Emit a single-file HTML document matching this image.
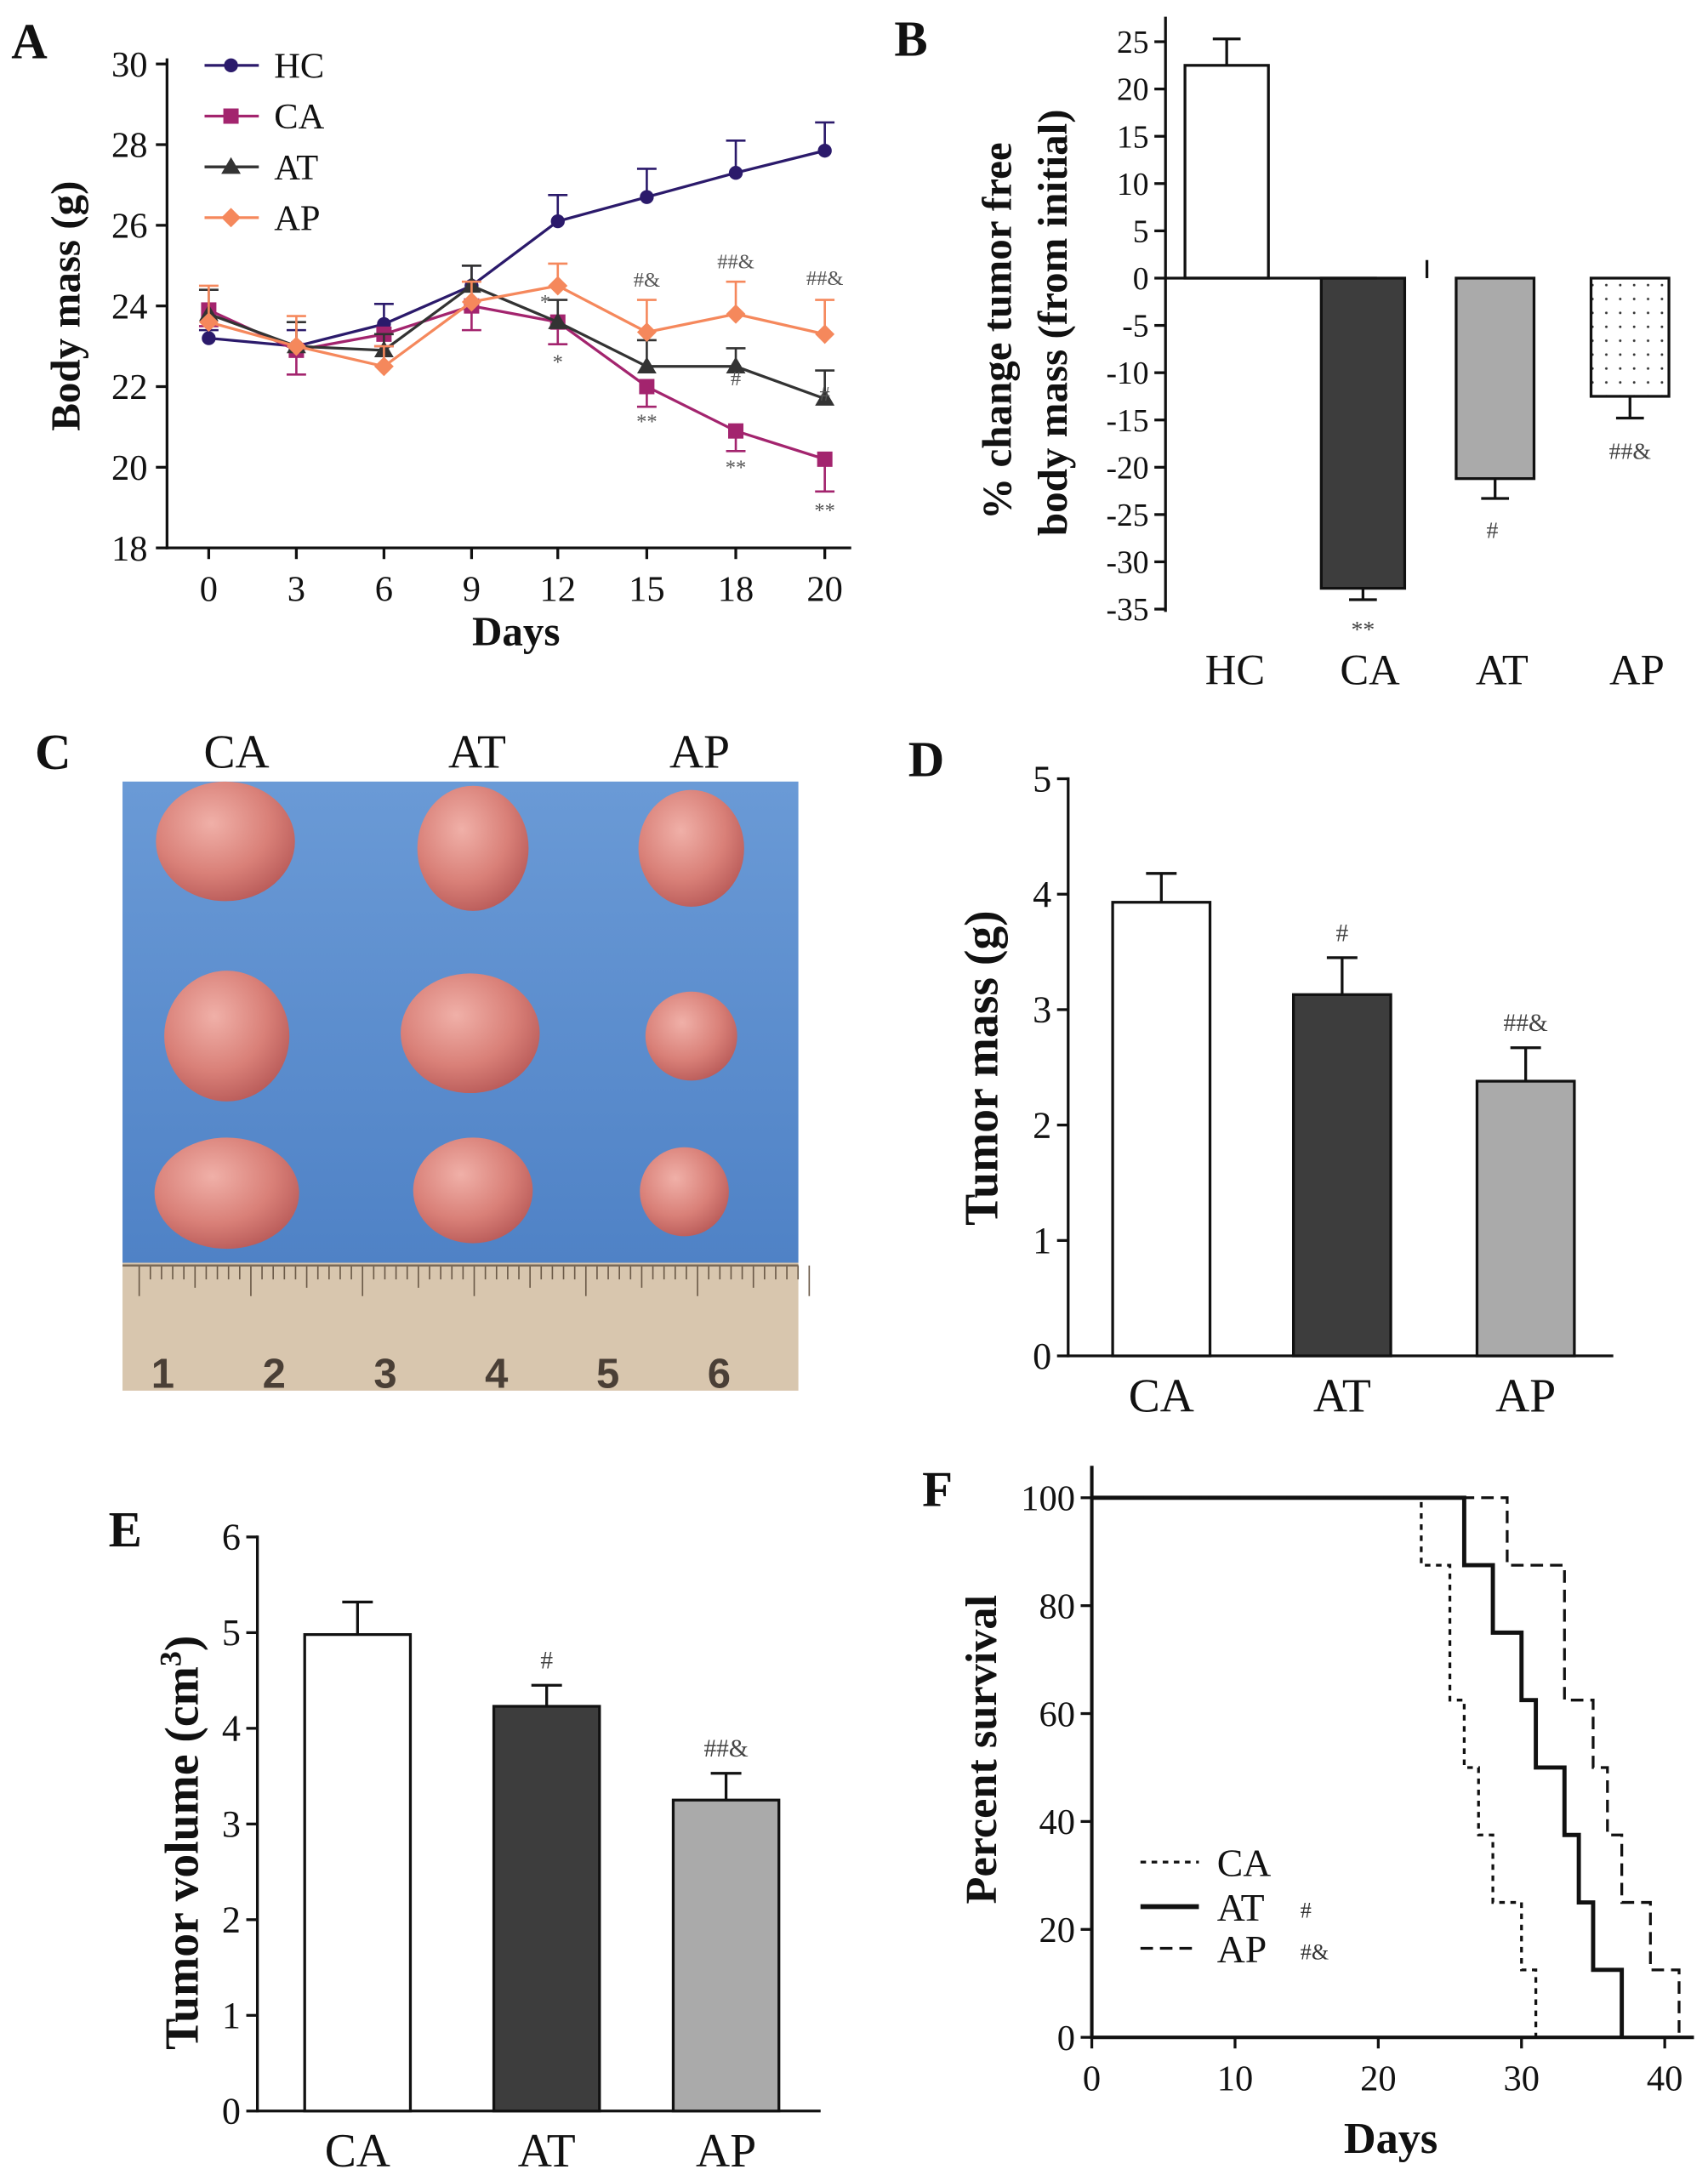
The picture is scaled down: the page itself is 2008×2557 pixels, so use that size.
<!DOCTYPE html>
<html><head><meta charset="utf-8"><style>
html,body{margin:0;padding:0;background:#fff;}
svg{display:block;font-family:"Liberation Serif",serif;}
</style></head><body>
<svg id="fig" xmlns="http://www.w3.org/2000/svg" width="2008" height="2557" viewBox="0 0 1228 1564">
<defs>
<pattern id="dots" width="10" height="10" patternUnits="userSpaceOnUse"><rect width="10" height="10" fill="#fff"/><circle cx="5" cy="5" r="0.9" fill="#333"/></pattern>
<linearGradient id="blue" x1="0" y1="0" x2="0" y2="1"><stop offset="0" stop-color="#6a9ad6"/><stop offset="1" stop-color="#4f82c6"/></linearGradient>
<radialGradient id="tum" cx="0.4" cy="0.35" r="0.7"><stop offset="0" stop-color="#f0b0a8"/><stop offset="0.6" stop-color="#d98078"/><stop offset="1" stop-color="#b85a58"/></radialGradient>
</defs>
</svg>
<script>
// ---------- DATA ----------
const daysA = ["0","3","6","9","12","15","18","20"];
const hcMean = [23.2,23.0,23.55,24.5,26.1,26.7,27.3,27.85];
const hcErr  = [0.2,0.4,0.5,0.5,0.65,0.7,0.8,0.7];
const caMean = [23.9,22.9,23.3,24.0,23.6,22.0,20.9,20.2];
const caErr  = [0.4,0.6,0.3,0.6,0.55,0.5,0.5,0.8];
const atMean = [23.8,23.0,22.9,24.5,23.6,22.5,22.5,21.7];
const atErr  = [0.6,0.6,0.4,0.5,0.55,0.65,0.45,0.7];
const apMean = [23.6,23.0,22.5,24.1,24.5,23.35,23.8,23.3];
const apErr  = [0.9,0.75,0.5,0.5,0.55,0.8,0.8,0.85];
const ticksA = [18,20,22,24,26,28,30];

const catsB = ["HC","CA","AT","AP"];
const valsB = [22.5,-32.8,-21.2,-12.5];
const errsB = [2.8,1.2,2.1,2.3];
const ticksB = [25,20,15,10,5,0,-5,-10,-15,-20,-25,-30,-35];

const catsD = ["CA","AT","AP"];
const valsD = [3.93,3.13,2.38];
const errsD = [0.25,0.32,0.29];
const ticksD = [0,1,2,3,4,5];

const catsE = ["CA","AT","AP"];
const valsE = [4.98,4.23,3.25];
const errsE = [0.34,0.22,0.28];
const ticksE = [0,1,2,3,4,5,6];

const survCA = [[0,100],[23,87.5],[25,62.5],[26,50],[27,37.5],[28,25],[30,12.5],[31,0]];
const survAT = [[0,100],[26,87.5],[28,75],[30,62.5],[31,50],[33,37.5],[34,25],[35,12.5],[37,0]];
const survAP = [[0,100],[29,87.5],[33,62.5],[35,50],[36,37.5],[37,25],[39,12.5],[41,0]];
const ticksFx = [0,10,20,30,40];
const ticksFy = [0,20,40,60,80,100];

// ---------- HELPERS ----------
const svg = document.getElementById('fig');
const NS = 'http://www.w3.org/2000/svg';
function mk(tag, attrs, parent){const e=document.createElementNS(NS,tag);for(const k in attrs)e.setAttribute(k,attrs[k]);(parent||svg).appendChild(e);return e;}
function txt(x,y,s,size,opts,parent){const t=mk('text',Object.assign({x:x,y:y,'font-size':size,fill:'#111'},opts||{}),parent);t.textContent=s;return t;}
function line(x1,y1,x2,y2,w,parent,extra){return mk('line',Object.assign({x1:x1,y1:y1,x2:x2,y2:y2,stroke:'#111','stroke-width':w||2},extra||{}),parent);}

// ---------- PANEL A ----------
const gA = mk('g',{});


const yA = v => 394 - (v-18)*29;
const xAp = [150,213,276,339,401,465,529,593];
const xA = i => xAp[0] + (xAp[i]-xAp[0]);
let t = txt(8,42,'A',36,{'font-weight':'bold'},gA);  
line(120,42,120,395,2,gA); line(119,394,612,394,2,gA);
ticksA.forEach(v=>{line(112,yA(v),120,yA(v),2,gA);const l=txt(106,yA(v)+9,String(v),26,{'text-anchor':'end'},gA);});
daysA.forEach((d,i)=>{line(xA(i),394,xA(i),402,2,gA);const l=txt(xA(i),432,d,26,{'text-anchor':'middle'},gA);});
t=txt(371,464,'Days',30,{'text-anchor':'middle','font-weight':'bold'},gA);
t=txt(0,0,'Body mass (g)',30,{'text-anchor':'middle','font-weight':'bold',transform:'translate(57,220) rotate(-90)'},gA);
function marker(shape,x,y,c,parent){
  if(shape==='circle')return mk('circle',{cx:x,cy:y,r:5,fill:c},parent);
  if(shape==='square')return mk('rect',{x:x-5.5,y:y-5.5,width:11,height:11,fill:c},parent);
  if(shape==='tri')return mk('polygon',{points:`${x},${y-7} ${x-7},${y+5} ${x+7},${y+5}`,fill:c},parent);
  return mk('polygon',{points:`${x},${y-7} ${x+7},${y} ${x},${y+7} ${x-7},${y}`,fill:c},parent);
}
const seriesA = [
 {n:'hc',m:hcMean,e:hcErr,c:'#2b1a6b',s:'circle',dir:1},
 {n:'ca',m:caMean,e:caErr,c:'#a3246e',s:'square',dir:-1},
 {n:'at',m:atMean,e:atErr,c:'#333333',s:'tri',dir:1},
 {n:'ap',m:apMean,e:apErr,c:'#f5885c',s:'diamond',dir:1}];
seriesA.forEach(S=>{
  const g=mk('g',{},gA);
  
  
  S.m.forEach((v,i)=>{const y2=yA(v+S.dir*S.e[i]);line(xA(i),yA(v),xA(i),y2,1.6,g,{stroke:S.c});line(xA(i)-7,y2,xA(i)+7,y2,1.6,g,{stroke:S.c});});
  const p=mk('polyline',{points:S.m.map((v,i)=>xA(i)+','+yA(v)).join(' '),fill:'none',stroke:S.c,'stroke-width':2},g);
  
  S.m.forEach((v,i)=>{const mm=marker(S.s,xA(i),yA(v),S.c,g);});
});
// legend
const legA=mk('g',{},gA);
seriesA.forEach((S,k)=>{const y=47+k*36.5;line(147,y,186,y,2,legA,{stroke:S.c});marker(S.s,166,y,S.c,legA);const l=txt(197,y+9,S.n.toUpperCase(),26,{},legA);});
// significance marks
[['*',392,222],['*',401,265],['**',465,308],['**',529,341],['**',593,372],['#&',465,206],['##&',529,193],['##&',593,205],['#',529,277],['#',593,288]].forEach(a=>{const l=txt(a[1],a[2],a[0],15,{'text-anchor':'middle',fill:'#555'},gA);});

// ---------- PANEL B ----------
const gB=mk('g',{});
const yB=v=>200-v*6.8;
t=txt(643,40,'B',36,{'font-weight':'bold'},gB);
line(838,12,838,440,2,gB);
ticksB.forEach(v=>{line(830,yB(v),838,yB(v),2,gB);const l=txt(826,yB(v)+8,String(v),23,{'text-anchor':'end'},gB);});
const xB=[882,980,1075,1172], wB=[60,60,56,56];
const fillB=['#fff','#3d3d3d','#aaaaaa','url(#dots)'];
valsB.forEach((v,i)=>{
  const y0=Math.min(yB(0),yB(v)),h=Math.abs(yB(v)-yB(0));
  const r=mk('rect',{x:xB[i]-wB[i]/2,y:y0,width:wB[i],height:h,fill:fillB[i],stroke:'#111','stroke-width':2},gB);
  
  const s=v>=0?1:-1,ye=yB(v+s*errsB[i]);
  line(xB[i],yB(v),xB[i],ye,2,gB);line(xB[i]-10,ye,xB[i]+10,ye,2,gB);
  const l=txt(xB[i]+(i===0?6:5),492,catsB[i],31,{'text-anchor':'middle'},gB);
});
line(838,200,990,200,2,gB);line(1026,187,1026,200,2,gB);
t=txt(0,0,'% change tumor free',30,{'text-anchor':'middle','font-weight':'bold',transform:'translate(727,238) rotate(-90)'},gB);
t=txt(0,0,'body mass  (from initial)',30,{'text-anchor':'middle','font-weight':'bold',transform:'translate(767,232) rotate(-90)'},gB);
[['**',980,458],['#',1073,387],['##&',1172,330]].forEach(a=>{const l=txt(a[1],a[2],a[0],17,{'text-anchor':'middle',fill:'#444'},gB);});

// ---------- PANEL C (photo) ----------
const gC=mk('g',{});
t=txt(25,553,'C',36,{'font-weight':'bold'},gC);
[['CA',170],['AT',343],['AP',503]].forEach(a=>{const l=txt(a[1],552,a[0],34,{'text-anchor':'middle'},gC);});
mk('rect',{x:88,y:562,width:486,height:346,fill:'url(#blue)'},gC);
mk('rect',{x:88,y:908,width:486,height:92,fill:'#d8c6ae'},gC);
for(let k=0;k<=60;k++){const x=100+k*8.03;const h=k%10===0?22:(k%5===0?16:10);line(x,910,x,910+h,1,gC,{stroke:'#6b5a48'});}
line(88,910,574,910,1.5,gC,{stroke:'#7a6a58'});
['1','2','3','4','5','6'].forEach((n,i)=>{const l=txt(117+i*80,998,n,30,{'text-anchor':'middle','font-family':'Liberation Sans, sans-serif','font-weight':'bold',fill:'#4a3f36'},gC);});
[[162,605,50,43],[340,610,40,45],[497,610,38,42],[163,745,45,47],[338,743,50,43],[497,745,33,32],[163,858,52,40],[340,856,43,38],[492,857,32,32]].forEach(b=>{
  const e=mk('ellipse',{cx:b[0],cy:b[1],rx:b[2],ry:b[3],fill:'url(#tum)'},gC);});

// ---------- generic bar chart for D and E ----------
function barChart(name,cats,vals,errs,ticks,ax,y0,pxPer,xs,w,xEnd,title,titleX,label,labelX,labelY,sig){
  const g=mk('g',{});
  const y=v=>y0-v*pxPer;
  let l=txt(labelX,labelY,label,36,{'font-weight':'bold'},g);
  line(ax,y(ticks[ticks.length-1])-1,ax,y0+1,2,g);line(ax,y0,xEnd,y0,2,g);
  ticks.forEach(v=>{line(ax-8,y(v),ax,y(v),2,g);const q=txt(ax-12,y(v)+9,String(v),27,{'text-anchor':'end'},g);});
  const fills=['#fff','#3d3d3d','#aaaaaa'];
  vals.forEach((v,i)=>{
    const r=mk('rect',{x:xs[i]-w/2,y:y(v),width:w,height:y0-y(v),fill:fills[i],stroke:'#111','stroke-width':2},g);
    
    const ye=y(v+errs[i]);line(xs[i],y(v),xs[i],ye,2,g);line(xs[i]-11,ye,xs[i]+11,ye,2,g);
    const q=txt(xs[i],y0+40,cats[i],34,{'text-anchor':'middle'},g);
    if(sig[i]){const s=txt(xs[i],ye-12,sig[i],18,{'text-anchor':'middle',fill:'#444'},g);}
  });
  return g;
}
const gD=barChart('panel-d-tumor-mass-chart',catsD,valsD,errsD,ticksD,768,975,83,[835,965,1097],70,1160,'',0,'D',653,558,['','#','##&']);
t=txt(0,0,'Tumor mass (g)',34,{'text-anchor':'middle','font-weight':'bold',transform:'translate(717,768) rotate(-90)'},gD);
const gE=barChart('panel-e-tumor-volume-chart',catsE,valsE,errsE,ticksE,185,1518,68.8,[257,393,522],76,590,'',0,'E',78,1112,['','#','##&']);
t=mk('text',{'font-size':34,'font-weight':'bold','text-anchor':'middle',fill:'#111',transform:'translate(142,1325) rotate(-90)'},gE);

t.innerHTML='Tumor volume (cm<tspan dy="-12" font-size="22">3</tspan><tspan dy="12">)</tspan>';

// ---------- PANEL F ----------
const gF=mk('g',{});
const xF=d=>785+d*10.3, yF=p=>1465-p*3.88;
t=txt(663,1083,'F',36,{'font-weight':'bold'},gF);
line(785,1054,785,1466,2.5,gF);line(784,1465,1218,1465,2.5,gF);
ticksFy.forEach(v=>{line(777,yF(v),785,yF(v),2,gF);const l=txt(773,yF(v)+9,String(v),26,{'text-anchor':'end'},gF);});
ticksFx.forEach(v=>{line(xF(v),1465,xF(v),1473,2,gF);const l=txt(xF(v),1503,String(v),26,{'text-anchor':'middle'},gF);});
t=txt(1000,1548,'Days',32,{'text-anchor':'middle','font-weight':'bold'},gF);
t=txt(0,0,'Percent survival',32,{'text-anchor':'middle','font-weight':'bold',transform:'translate(716,1258) rotate(-90)'},gF);
function steps(arr){let s='M'+xF(arr[0][0])+','+yF(arr[0][1]);for(let i=1;i<arr.length;i++){s+=' H'+xF(arr[i][0])+' V'+yF(arr[i][1]);}return s;}
const survSeries=[{n:'ca',d:survCA,dash:'4,4',w:2},{n:'at',d:survAT,dash:'none',w:3},{n:'ap',d:survAP,dash:'9,5',w:2}];
survSeries.forEach(S=>{const p=mk('path',{d:steps(S.d),fill:'none',stroke:'#111','stroke-width':S.w,'stroke-dasharray':S.dash},gF);});
const legF=mk('g',{},gF);
[['CA','4,4',2,1345,''],['AT','none',3.5,1377,'#'],['AP','9,5',2,1407,'#&']].forEach(a=>{
  line(820,a[3]-6,862,a[3]-6,a[2],legF,{'stroke-dasharray':a[1]});
  const l=txt(875,a[3]+4,a[0],28,{},legF);
  if(a[4]){const s=txt(935,a[3]+2,a[4],16,{fill:'#333'},legF);}
});
</script>
</body></html>
